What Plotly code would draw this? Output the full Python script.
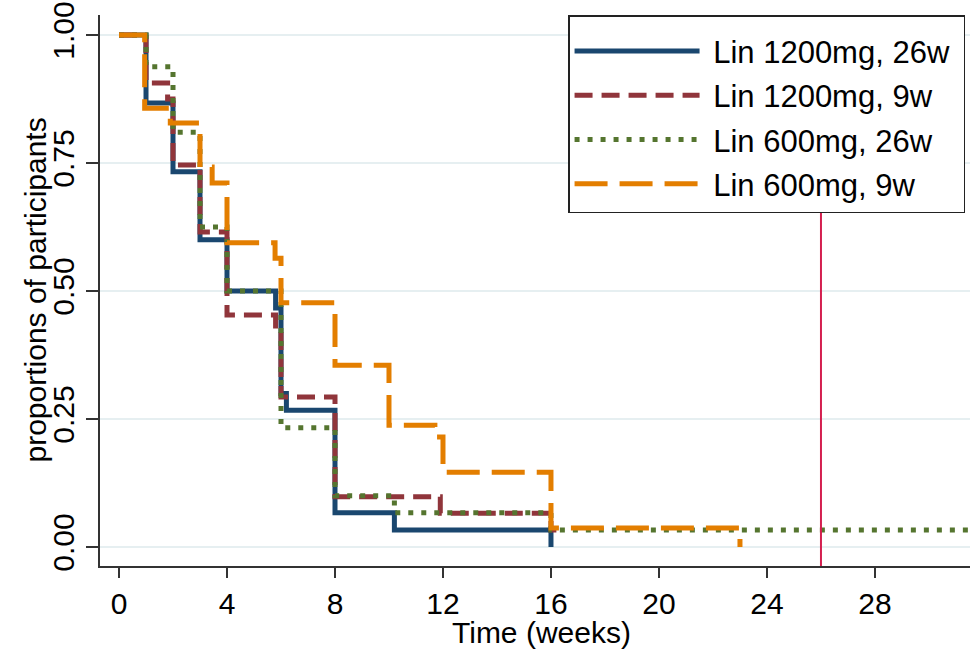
import plotly.graph_objects as go

# Kaplan-Meier step data (time in weeks, proportion remaining)
blue_t = [0, 1, 2, 3, 4, 5.8, 6, 6.2, 8, 10.2, 16]
blue_s = [1.0, 0.867, 0.733, 0.6, 0.5, 0.467, 0.3, 0.267, 0.067, 0.033, 0.0]

red_t = [0, 1, 1.8, 2, 3, 4, 5.8, 6, 8, 11.9, 16, 16.2]
red_s = [1.0, 0.906, 0.875, 0.746, 0.615, 0.453, 0.42, 0.293, 0.098, 0.066, 0.033, 0.033]

green_t = [0, 1, 2, 3, 4, 6, 8, 10.2, 16, 31.6]
green_s = [1.0, 0.938, 0.81, 0.625, 0.5, 0.233, 0.1, 0.067, 0.033, 0.033]

orange_t = [0, 0.95, 1.9, 3, 3.45, 4, 5.78, 6, 8, 10, 11.7, 12, 16, 23]
orange_s = [1.0, 0.857, 0.828, 0.742, 0.711, 0.594, 0.564, 0.477, 0.355, 0.238, 0.215, 0.146, 0.037, 0.0]

names = ["Lin 1200mg, 26w", "Lin 1200mg, 9w", "Lin 600mg, 26w", "Lin 600mg, 9w"]
x_ticks = [0, 4, 8, 12, 16, 20, 24, 28]
y_ticks = [0, 0.25, 0.5, 0.75, 1.0]
y_ticktext = ["0.00", "0.25", "0.50", "0.75", "1.00"]
ref_line_x = 26

FONT = "Liberation Sans, Arial, sans-serif"

fig = go.Figure()
series = [
    (blue_t, blue_s, "#1a476f", "solid"),
    (red_t, red_s, "#90353b", "18px,9px"),
    (green_t, green_s, "#55752f", "5px,8px"),
    (orange_t, orange_s, "#e37e00", "33px,12px"),
]
for i, ((t, s, c, d), n) in enumerate(zip(series, names)):
    fig.add_trace(go.Scatter(
        x=t, y=s, mode="lines", name="\u00a0" + n + "\u00a0", legendgroup=str(i),
        line=dict(color=c, width=5, dash=d, shape="hv"),
    ))

fig.add_shape(type="line", xref="x", yref="paper", x0=ref_line_x, x1=ref_line_x,
              y0=0, y1=1, line=dict(color="#d41f4f", width=2))

fig.add_annotation(text="Time (weeks)", xref="paper", yref="paper",
                   x=0.507, y=-0.1198, xanchor="center", yanchor="middle",
                   showarrow=False, font=dict(size=30, color="black"))
fig.add_annotation(text="proportions of participants", xref="paper", yref="paper",
                   x=-0.0747, y=0.5, xanchor="center", yanchor="middle", textangle=-90,
                   showarrow=False, font=dict(size=30, color="black"))

fig.update_layout(
    width=970, height=651,
    margin=dict(l=100, r=0, t=15, b=85),
    paper_bgcolor="white", plot_bgcolor="white",
    font=dict(family=FONT, size=30, color="black"),
    showlegend=True,
    legend=dict(
        x=0.538, y=1.0, xanchor="left", yanchor="top",
        bgcolor="white", bordercolor="#222", borderwidth=1.5,
        font=dict(size=31), itemwidth=125, tracegroupgap=1,
        title=dict(text="\u00a0", font=dict(size=6)),
    ),
    xaxis=dict(
        range=[-0.704, 31.52], tickvals=x_ticks, automargin=False,
        ticks="outside", ticklen=10, tickwidth=1.5, tickcolor="#333",
        showline=True, linecolor="#333", linewidth=1.5,
        showgrid=False, zeroline=False,
    ),
    yaxis=dict(
        range=[-0.0371, 1.039], tickvals=y_ticks, ticktext=y_ticktext,
        tickangle=-90, automargin=False, ticklabeloverflow="allow",
        ticks="outside", ticklen=12, tickwidth=1.5, tickcolor="#333",
        showline=True, linecolor="#333", linewidth=1.5,
        showgrid=True, gridcolor="#e6eff1", gridwidth=1.5, zeroline=False,
    ),
)

fig.write_html("out.html", config={"displayModeBar": False},
               post_script="document.body.style.margin='0';")
